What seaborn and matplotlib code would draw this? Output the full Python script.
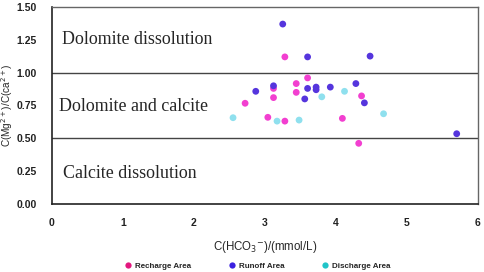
import matplotlib
matplotlib.use("Agg")
import matplotlib.pyplot as plt
import seaborn as sns
import pandas as pd
from matplotlib.lines import Line2D

sns.set_style("white")
plt.rcParams['font.family'] = ['Liberation Sans', 'DejaVu Sans']

recharge_x = [2.72, 3.04, 3.12, 3.12, 3.28, 3.28, 3.44, 3.44, 3.60, 4.09, 4.32, 4.36]
recharge_y = [0.767, 0.660, 0.880, 0.810, 1.120, 0.631, 0.917, 0.850, 0.960, 0.652, 0.462, 0.823]
runoff_x = [2.87, 3.12, 3.25, 3.56, 3.60, 3.60, 3.72, 3.72, 3.92, 4.28, 4.40, 4.48, 5.70]
runoff_y = [0.858, 0.900, 1.370, 0.800, 1.120, 0.880, 0.890, 0.870, 0.890, 0.917, 0.770, 1.126, 0.535]
discharge_x = [2.55, 3.17, 3.48, 3.80, 4.12, 4.67]
discharge_y = [0.657, 0.631, 0.639, 0.816, 0.858, 0.687]

groups = ["Recharge Area", "Runoff Area", "Discharge Area"]
plot_colors = {"Recharge Area": "#f23fd0", "Runoff Area": "#5535dd", "Discharge Area": "#8fe0ee"}
legend_colors = ["#e3177f", "#3a20e0", "#20c4c8"]

df = pd.concat([
    pd.DataFrame({"x": recharge_x, "y": recharge_y, "g": groups[0]}),
    pd.DataFrame({"x": runoff_x, "y": runoff_y, "g": groups[1]}),
    pd.DataFrame({"x": discharge_x, "y": discharge_y, "g": groups[2]}),
])

fig = plt.figure(figsize=(4.84, 2.72), dpi=100)
ax = fig.add_axes([0.1074, 0.25, 0.8802, 0.7243])
sns.scatterplot(data=df, x="x", y="y", hue="g", palette=plot_colors, s=24,
                linewidth=0, legend=False, ax=ax, zorder=3)

ax.set_xlim(0, 6)
ax.set_ylim(0, 1.5)
ax.set_xticks([0, 1, 2, 3, 4, 5, 6])
ax.set_yticks([0, 0.25, 0.5, 0.75, 1.0, 1.25, 1.5])
ax.set_yticklabels(["0.00", "0.25", "0.50", "0.75", "1.00", "1.25", "1.50"])
ax.tick_params(axis='y', length=0, labelsize=7.5, colors="#222222", pad=11)
ax.tick_params(axis='x', length=0, labelsize=7.5, colors="#222222", pad=10)
for lab in ax.get_xticklabels() + ax.get_yticklabels():
    lab.set_fontweight("bold")

for side in ["left", "bottom"]:
    ax.spines[side].set_color("#222222")
    ax.spines[side].set_linewidth(1.2)
for side in ["top", "right"]:
    ax.spines[side].set_color("#666666")
    ax.spines[side].set_linewidth(1.0)

for yv in [0.5, 1.0]:
    ax.axhline(yv, color="#444444", linewidth=1.0, zorder=1)

serif = ['Liberation Serif', 'DejaVu Serif']
ax.text(0.14, 1.25, "Dolomite dissolution", family=serif, fontsize=12.9, va="center", ha="left")
ax.text(0.10, 0.74, "Dolomite and calcite", family=serif, fontsize=12.9, va="center", ha="left")
ax.text(0.155, 0.23, "Calcite dissolution", family=serif, fontsize=12.9, va="center", ha="left")

ax.set_xlabel("C(HCO$_3$$^{-}$)/(mmol/L)", fontsize=8.3, labelpad=8)
ax.set_ylabel("C(Mg$^{2+}$)/C(ca$^{2+}$)", fontsize=7.2)
ax.yaxis.set_label_coords(-0.087, 0.5)

handles = [Line2D([0], [0], marker='o', linestyle='', markersize=4.5,
                  markerfacecolor=c, markeredgewidth=0) for c in legend_colors]
fig.legend(handles, groups, loc="center", bbox_to_anchor=(0.532, 0.022), ncol=3,
           frameon=False, handlelength=1.0, handletextpad=0.4, columnspacing=4.5,
           prop={"weight": "bold", "size": 5.8})

fig.savefig("out.png", dpi=100)
